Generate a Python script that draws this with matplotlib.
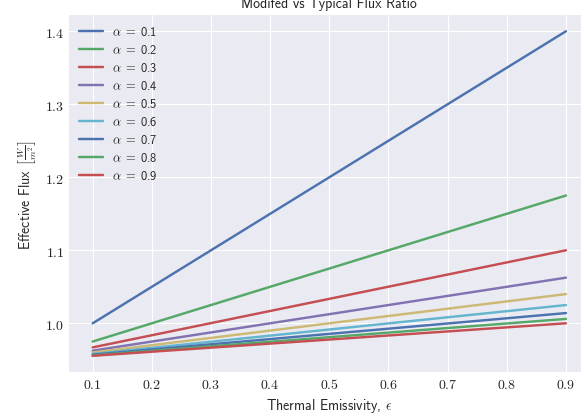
import numpy as np
import matplotlib
matplotlib.use("Agg")
import matplotlib.pyplot as plt
import matplotlib.ticker as mticker
from cycler import cycler

# emissivity range and per-alpha end values
eps = [0.1, 0.9]
alphas = [0.1, 0.2, 0.3, 0.4, 0.5, 0.6, 0.7, 0.8, 0.9]
flux_start = [1.0, 0.975, 0.967, 0.9625, 0.960, 0.958, 0.957, 0.956, 0.9555]
flux_end = [1.4, 1.175, 1.1, 1.0625, 1.04, 1.025, 1.014, 1.006, 1.0]

x_ticks = [0.1, 0.2, 0.3, 0.4, 0.5, 0.6, 0.7, 0.8, 0.9]
y_ticks = [1.0, 1.1, 1.2, 1.3, 1.4]

DEEP = ['#4C72B0', '#55A868', '#C44E52', '#8172B2', '#CCB974', '#64B5CD']


def main():
    plt.style.use('seaborn-v0_8-darkgrid')
    plt.rcParams['mathtext.fontset'] = 'cm'
    plt.rcParams['font.family'] = ['cmss10', 'DejaVu Sans']
    plt.rcParams['axes.prop_cycle'] = cycler(color=DEEP)
    plt.rcParams['axes.unicode_minus'] = False

    fig = plt.figure(figsize=(5.81, 4.14), dpi=100)
    ax = fig.add_axes([0.1188, 0.099, 0.896, 0.8623])

    for a, y0, y1 in zip(alphas, flux_start, flux_end):
        ax.plot(eps, [y0, y1], linewidth=1.75, label=r'$\alpha\;=\;$' + str(a))

    ax.set_xticks(x_ticks)
    ax.set_yticks(y_ticks)
    ax.xaxis.set_major_formatter(mticker.FuncFormatter(lambda v, p: r'$%.1f$' % v))
    ax.yaxis.set_major_formatter(mticker.FuncFormatter(lambda v, p: r'$%.1f$' % v))
    ax.tick_params(labelsize=10)

    ax.set_xlabel(r'Thermal Emissivity, $\epsilon$', fontsize=10)
    ax.set_ylabel(r'Effective Flux $\left[\frac{W}{m^2}\right]$', fontsize=10)
    ax.set_title('Modifed vs Typical Flux Ratio', fontsize=10)
    ax.legend(loc='upper left', fontsize=9, labelspacing=0.4,
              handlelength=1.9, handletextpad=0.7, borderaxespad=0.4)

    fig.savefig('out.png', dpi=100)


if __name__ == "__main__":
    main()
